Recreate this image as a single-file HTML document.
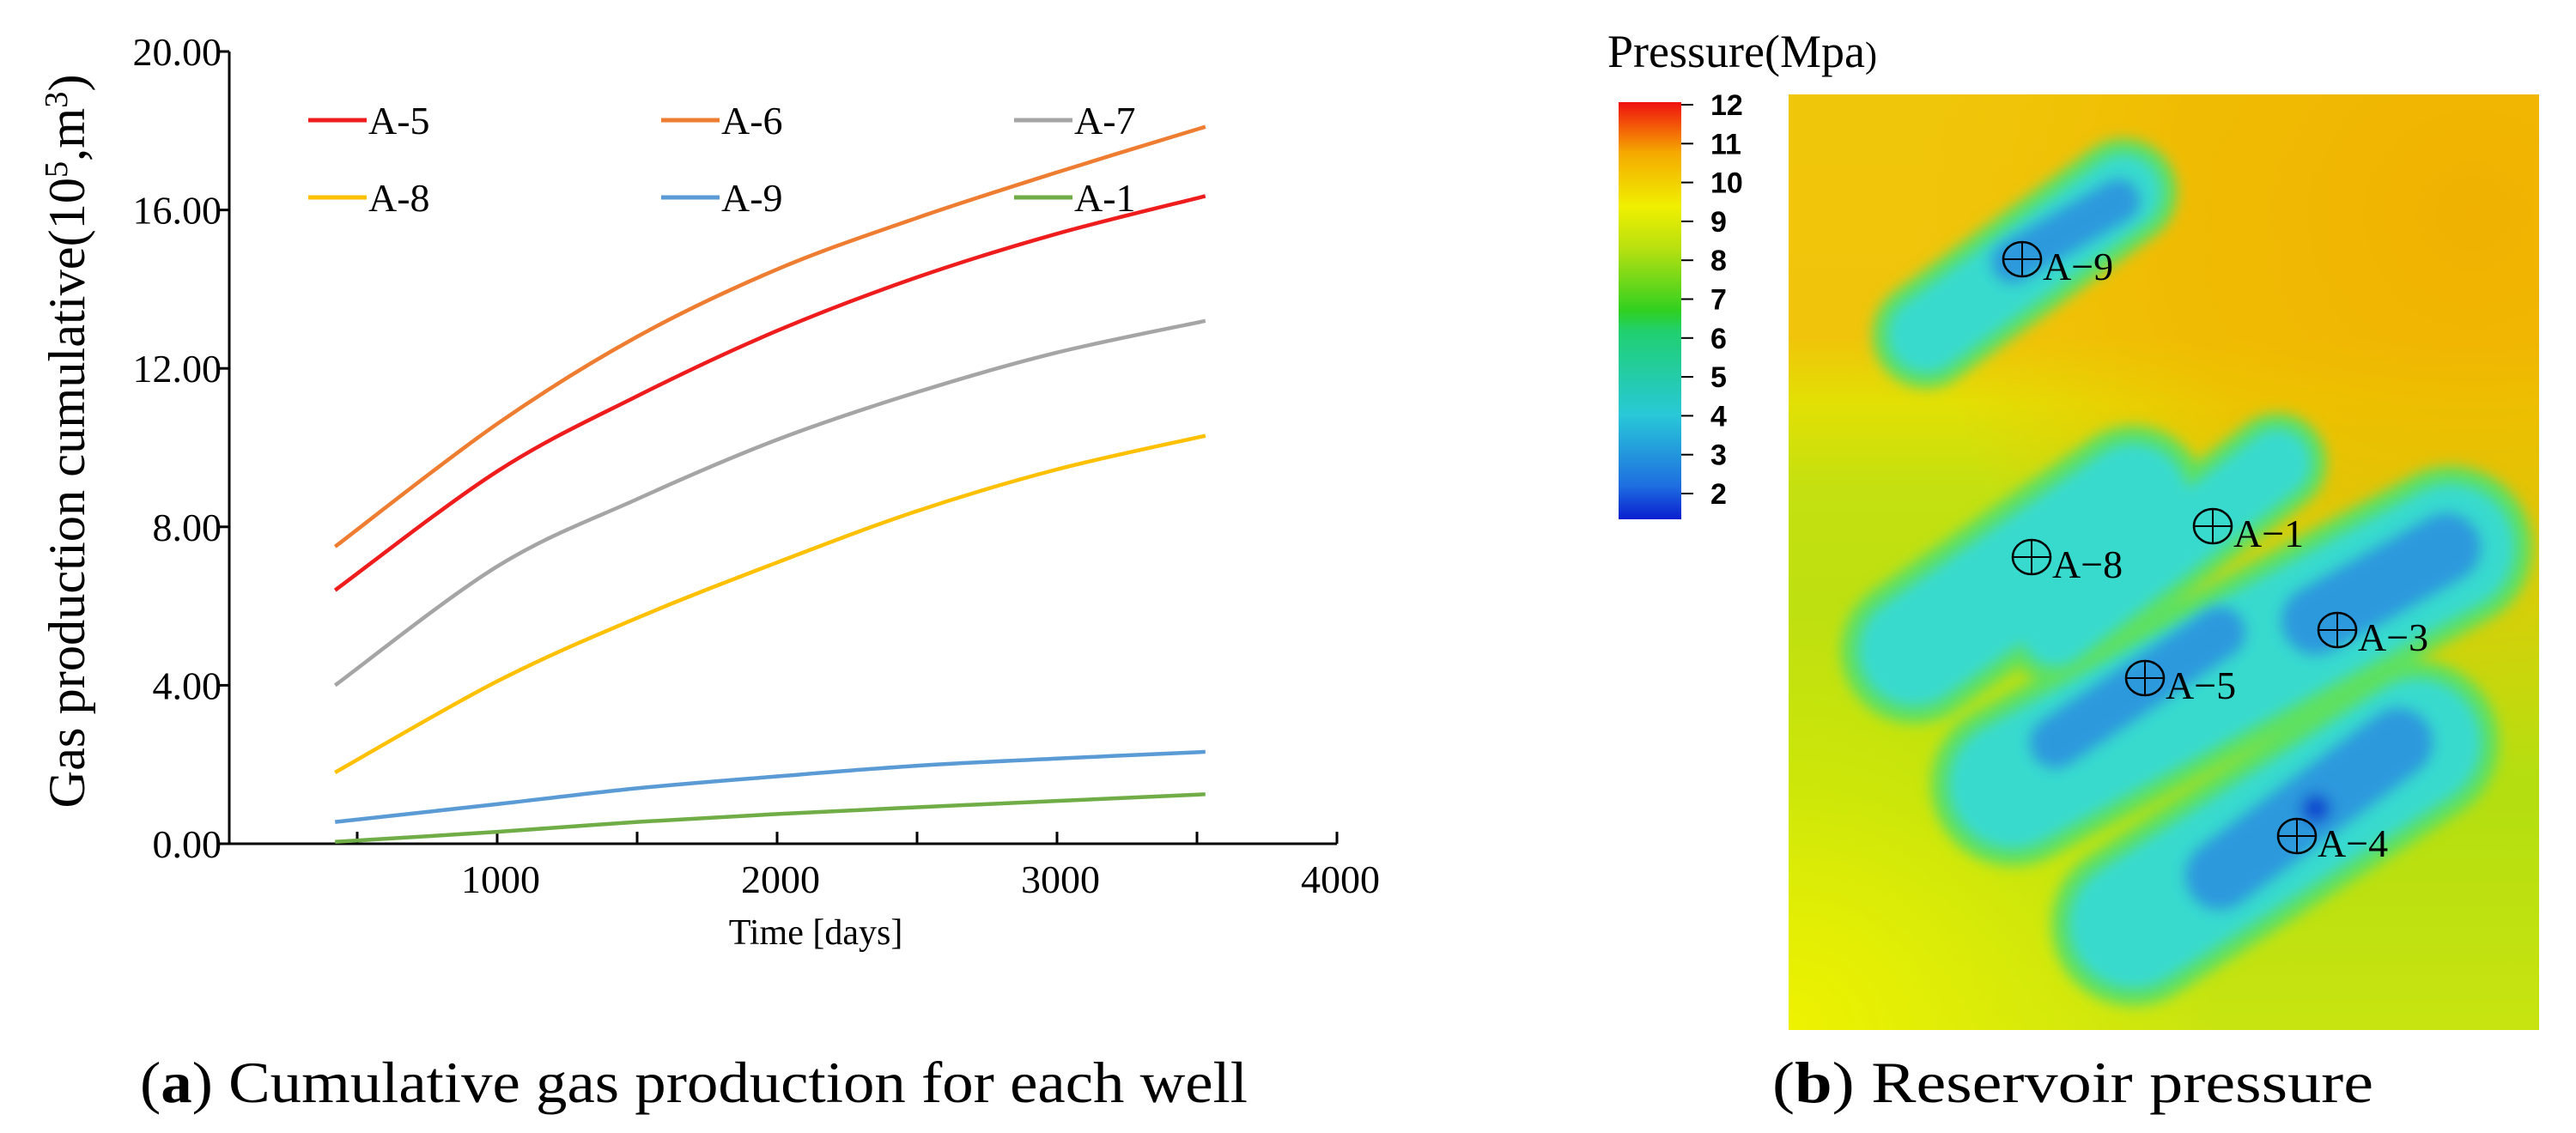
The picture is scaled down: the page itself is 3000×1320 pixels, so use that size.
<!DOCTYPE html>
<html><head><meta charset="utf-8"><style>
body{margin:0;background:#fff;}
svg{display:block;}
text{font-family:"Liberation Serif",serif;}
</style></head><body>
<svg id="fig" width="3000" height="1320" viewBox="0 0 3000 1320" xmlns="http://www.w3.org/2000/svg">
<defs>
<linearGradient id="cbar" x1="0" y1="1" x2="0" y2="0">
<stop offset="0" stop-color="#0a1ed0"/><stop offset="0.08" stop-color="#1e6ee0"/><stop offset="0.25" stop-color="#28c8d8"/><stop offset="0.45" stop-color="#20d070"/><stop offset="0.5" stop-color="#30d020"/><stop offset="0.65" stop-color="#b8e010"/><stop offset="0.75" stop-color="#f0f000"/><stop offset="0.88" stop-color="#f5a800"/><stop offset="1" stop-color="#f01010"/>
</linearGradient>
<linearGradient id="bgv" x1="0" y1="0" x2="0" y2="1">
<stop offset="0" stop-color="#f0c60a"/><stop offset="0.26" stop-color="#f0c40a"/><stop offset="0.33" stop-color="#e2e004"/><stop offset="0.42" stop-color="#c4e010"/><stop offset="0.75" stop-color="#b4de10"/><stop offset="1" stop-color="#c8e410"/>
</linearGradient>
<radialGradient id="orng" gradientUnits="userSpaceOnUse" cx="2880" cy="250" r="650">
<stop offset="0" stop-color="#f0b000" stop-opacity="0.95"/><stop offset="0.55" stop-color="#f0b800" stop-opacity="0.7"/><stop offset="1" stop-color="#f0c000" stop-opacity="0"/>
</radialGradient>
<radialGradient id="ylw" gradientUnits="userSpaceOnUse" cx="2083" cy="1200" r="500">
<stop offset="0" stop-color="#eef200" stop-opacity="1"/><stop offset="1" stop-color="#eef200" stop-opacity="0"/>
</radialGradient>
<filter id="bl" x="-50%" y="-50%" width="200%" height="200%"><feGaussianBlur stdDeviation="8"/></filter>
</defs>
<g id="chartA"></g>

<g>
<rect x="2083" y="110" width="874" height="1090" fill="url(#bgv)"/>
<rect x="2083" y="110" width="874" height="1090" fill="url(#ylw)"/>
<rect x="2083" y="110" width="874" height="1090" fill="url(#orng)"/>
<clipPath id="mclip"><rect x="2083" y="110" width="874" height="1090"/></clipPath>
<g clip-path="url(#mclip)">
<g filter="url(#bl)" stroke="#5ee060" stroke-linecap="round" fill="none">
<line x1="2243" y1="390" x2="2473" y2="224" stroke-width="125"/>
<line x1="2229" y1="758" x2="2484" y2="581" stroke-width="170"/>
<line x1="2394" y1="737" x2="2652" y2="539" stroke-width="115"/>
<line x1="2344" y1="914" x2="2854" y2="638" stroke-width="190"/>
<line x1="2484" y1="1077" x2="2815" y2="865" stroke-width="190"/>
</g>
<g filter="url(#bl)" stroke="#38dace" stroke-linecap="round" fill="none">
<line x1="2243" y1="390" x2="2473" y2="224" stroke-width="90"/>
<line x1="2229" y1="758" x2="2484" y2="581" stroke-width="130"/>
<line x1="2394" y1="737" x2="2652" y2="539" stroke-width="80"/>
<line x1="2344" y1="914" x2="2854" y2="638" stroke-width="150"/>
<line x1="2484" y1="1077" x2="2815" y2="865" stroke-width="150"/>
</g>
<g filter="url(#bl)" stroke="#2a8ee0" stroke-linecap="round" fill="none" opacity="0.85">
<line x1="2344" y1="305" x2="2467" y2="234" stroke-width="50"/>
<line x1="2394" y1="865" x2="2585" y2="737" stroke-width="60"/>
<line x1="2697" y1="723" x2="2849" y2="638" stroke-width="80"/>
<line x1="2585" y1="1020" x2="2793" y2="865" stroke-width="80"/>
<circle cx="2697" cy="942" r="18" stroke="none" fill="#1030d0"/>
</g>
</g>
<g id="wells"></g>
</g>

<g>
<text x="1872" y="78" font-size="54">Pressure(Mpa<tspan font-size="42">)</tspan></text>
<rect x="1885" y="119" width="73" height="486" fill="url(#cbar)"/>
<g id="cticks"></g>
</g>

<text x="808" y="1284" font-size="68" text-anchor="middle" textLength="1290" lengthAdjust="spacingAndGlyphs">(<tspan font-weight="bold">a</tspan>) Cumulative gas production for each well</text>
<text x="2414" y="1284" font-size="68" text-anchor="middle" textLength="700" lengthAdjust="spacingAndGlyphs">(<tspan font-weight="bold">b</tspan>) Reservoir pressure</text>
</svg>
<script>
const days = [421,1000,1500,2000,2500,3000,3530];
const seriesNames = ["A-5","A-6","A-7","A-8","A-9","A-1"];
const seriesColors = ["#ee1c1c","#ee7d31","#a5a5a5","#ffc000","#5b9bd5","#70ad47"];
const a5 = [6.4,9.4,11.3,12.95,14.3,15.4,16.35];
const a6 = [7.5,10.6,12.8,14.5,15.8,16.95,18.1];
const a7 = [4.0,7.0,8.7,10.2,11.4,12.4,13.2];
const a8 = [1.8,4.1,5.7,7.1,8.4,9.45,10.3];
const a9 = [0.55,1.0,1.4,1.7,1.97,2.15,2.32];
const a1 = [0.05,0.3,0.55,0.75,0.92,1.08,1.25];
const yTicks = ["0.00","4.00","8.00","12.00","16.00","20.00"];
const xTicks = [1000,2000,3000,4000];
const cbLabels = ["12","11","10","9","8","7","6","5","4","3","2"];
const wellNames = ["A-9","A-8","A-1","A-3","A-5","A-4"];
const wellX = [2355,2366,2577,2722,2498,2675];
const wellY = [302,649,613,734,790,974];

const NS="http://www.w3.org/2000/svg";
const AXL=267,X0=253,XPER=0.326,Y0=983,YPER=46.15;
const sx=d=>X0+d*XPER, sy=v=>Y0-v*YPER;
function mk(tag,attrs,parent){const e=document.createElementNS(NS,tag);for(const k in attrs)e.setAttribute(k,attrs[k]);parent.appendChild(e);return e;}
const g=document.getElementById('chartA');
const ax=mk('path',{d:`M${AXL} ${sy(20)} V${Y0} H${sx(4000)}`,stroke:'#000','stroke-width':3,fill:'none'},g);


yTicks.forEach((t,i)=>{const v=parseFloat(t);
 const tk=mk('line',{x1:AXL-12,x2:AXL,y1:sy(v),y2:sy(v),stroke:'#000','stroke-width':3},g);
 
 
 const tx=mk('text',{x:258,y:sy(v)+16,'font-size':46,'text-anchor':'end'},g);tx.textContent=t;
 
 
});
for(let d=500;d<=4000;d+=500){
 const tk=mk('line',{x1:sx(d),x2:sx(d),y1:Y0,y2:Y0-14,stroke:'#000','stroke-width':3},g);
 
 
}
xTicks.forEach(d=>{const tx=mk('text',{x:sx(d)+4,y:1040,'font-size':46,'text-anchor':'middle'},g);tx.textContent=d;
 
 
});
const xt=mk('text',{x:950,y:1100,'font-size':42,'text-anchor':'middle'},g);xt.textContent='Time [days]';


const yt=mk('text',{x:0,y:0,'font-size':60,'text-anchor':'middle',textLength:855,lengthAdjust:'spacingAndGlyphs',transform:'translate(98,514) rotate(-90)'},g);
yt.innerHTML='Gas production cumulative(10<tspan dy="-20" font-size="38">5</tspan><tspan dy="20">,m</tspan><tspan dy="-20" font-size="38">3</tspan><tspan dy="20">)</tspan>';


function smooth(pts){let d=`M${pts[0][0]} ${pts[0][1]}`;for(let i=0;i<pts.length-1;i++){const p0=pts[i-1]||pts[i],p1=pts[i],p2=pts[i+1],p3=pts[i+2]||p2;
 d+=` C${p1[0]+(p2[0]-p0[0])/6} ${p1[1]+(p2[1]-p0[1])/6} ${p2[0]-(p3[0]-p1[0])/6} ${p2[1]-(p3[1]-p1[1])/6} ${p2[0]} ${p2[1]}`;}return d;}
[a5,a6,a7,a8,a9,a1].forEach((s,i)=>{
 const p=mk('path',{d:smooth(days.map((d,j)=>[sx(d),sy(s[j])])),stroke:seriesColors[i],'stroke-width':4.5,fill:'none'},g);
 
 
 const col=i%3,row=Math.floor(i/3);const lx=359+col*411,ly=140+row*90;
 const ll=mk('line',{x1:lx,x2:lx+68,y1:ly,y2:ly,stroke:seriesColors[i],'stroke-width':5},g);
 
 
 const lt=mk('text',{x:lx+70,y:ly+16,'font-size':46},g);lt.textContent=seriesNames[i];
 
 
});
const ct=document.getElementById('cticks');
cbLabels.forEach((l,i)=>{const y=122+i*45.3;
 const tk=mk('line',{x1:1958,x2:1972,y1:y,y2:y,stroke:'#000','stroke-width':2},ct);
 
 
 const tx=mk('text',{x:1992,y:y+12,'font-size':34,'font-weight':'bold',style:'font-family:"Liberation Sans",sans-serif'},ct);tx.textContent=l;
 
 
});
const wg=document.getElementById('wells');
wellNames.forEach((n,i)=>{const x=wellX[i],y=wellY[i];
 const c=mk('g',{},wg);
 
 
 mk('ellipse',{cx:x,cy:y,rx:22,ry:20,fill:'none',stroke:'#000','stroke-width':2.5},c);
 mk('path',{d:`M${x-22} ${y} H${x+22} M${x} ${y-20} V${y+20}`,stroke:'#000','stroke-width':2},c);
 const t=mk('text',{x:x+24,y:y+24,'font-size':46},c);t.textContent=n.replace('-','\u2212');
});
</script>
</body></html>
